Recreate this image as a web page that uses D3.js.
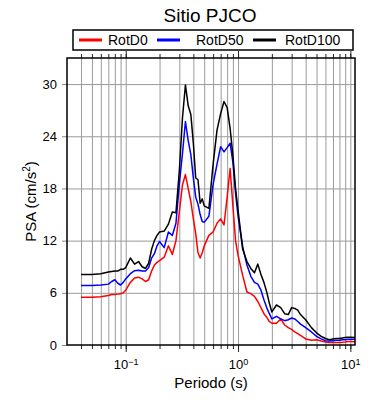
<!DOCTYPE html>
<html>
<head>
<meta charset="utf-8">
<script src="https://cdn.jsdelivr.net/npm/d3@7"></script>
<style>
  body { margin: 0; background: #fff; }
  svg { display: block; font-family: "Liberation Sans", Arial, sans-serif; }
</style>
</head>
<body>
<svg id="chart" width="390" height="400"></svg>
<script>
// periods (s) and spectral accelerations (cm/s^2)
const periods = [0.04, 0.05, 0.06, 0.07, 0.075, 0.08, 0.085, 0.09, 0.095, 0.1,
  0.11, 0.12, 0.13, 0.14, 0.15, 0.16, 0.17, 0.18, 0.19, 0.2,
  0.22, 0.24, 0.26, 0.28, 0.30, 0.32, 0.34, 0.36, 0.38, 0.40,
  0.42, 0.44, 0.46, 0.48, 0.50, 0.55, 0.60, 0.65, 0.70, 0.75,
  0.80, 0.85, 0.90, 0.95, 1.0, 1.1, 1.2, 1.3, 1.4, 1.5,
  1.6, 1.7, 1.8, 1.9, 2.0, 2.2, 2.4, 2.6, 2.8, 3.0,
  3.2, 3.4, 3.6, 3.8, 4.0, 4.5, 5.0, 5.5, 6.0, 6.5,
  7.0, 7.5, 8.0, 8.5, 9.0, 9.5, 10, 11];

const rotD0 = [5.5, 5.5, 5.55, 5.7, 5.8, 5.8, 5.85, 5.9, 6.0, 6.3,
  7.2, 7.7, 7.8, 7.6, 7.3, 7.5, 8.5, 9.2, 9.5, 9.7,
  10.1, 11.4, 10.4, 12.0, 15.3, 18.4, 19.6, 18.0, 16.5, 14.5,
  12.8, 10.6, 10.0, 10.6, 11.4, 12.6, 13.0, 14.0, 14.5, 13.8,
  17.0, 20.3, 16.0, 12.0, 10.3, 8.0, 6.1, 5.9, 5.6, 5.0,
  4.3, 3.6, 3.2, 2.7, 2.5, 2.5, 3.0, 2.3, 2.0, 1.8,
  1.5, 1.3, 1.1, 0.9, 0.7, 0.55, 0.6, 0.45, 0.35, 0.3,
  0.3, 0.3, 0.3, 0.32, 0.35, 0.4, 0.4, 0.38];

const rotD50 = [6.85, 6.85, 6.9, 7.0, 7.3, 7.5, 7.1, 6.9, 7.2, 7.6,
  8.2, 8.55, 8.6, 8.5, 8.5, 8.9, 10.0, 10.5, 11.4, 11.9,
  11.2, 13.0, 12.6, 14.0, 18.5, 22.0, 25.7, 23.5, 21.9, 19.2,
  17.0, 16.2, 15.0, 14.2, 14.1, 14.8, 18.5, 20.8, 22.8, 22.2,
  22.7, 23.2, 21.0, 17.5, 14.8, 11.3, 9.2, 7.9, 7.2, 7.0,
  6.3, 5.2, 4.3, 3.6, 3.0, 3.3, 3.0, 2.8, 2.9, 3.1,
  3.0, 2.7, 2.4, 2.2, 2.0, 1.5, 1.0, 0.7, 0.5, 0.45,
  0.5, 0.55, 0.55, 0.6, 0.6, 0.65, 0.65, 0.65];

const rotD100 = [8.1, 8.1, 8.2, 8.4, 8.45, 8.5, 8.5, 8.7, 8.7, 8.9,
  10.0, 9.3, 9.6, 9.0, 8.8, 9.4, 11.0, 12.0, 12.6, 13.0,
  13.1, 13.9, 15.3, 15.2, 20.0, 26.1, 29.9, 27.5, 26.5, 23.2,
  19.2, 19.0, 16.3, 16.8, 16.0, 15.7, 20.8, 24.7, 26.6, 28.0,
  27.3, 24.9, 21.8, 18.0, 15.5, 11.0, 9.6, 8.8, 8.3, 9.3,
  8.1, 7.2, 6.1, 4.8, 3.8, 4.6, 4.3, 3.6, 3.5, 4.3,
  4.2, 4.0, 3.5, 3.2, 2.9, 2.0, 1.4, 1.0, 0.75, 0.6,
  0.7, 0.75, 0.75, 0.8, 0.85, 0.9, 0.9, 0.85];

const seriesNames = ["RotD0", "RotD50", "RotD100"];
const seriesColors = ["#ff0000", "#0000ff", "#000000"];
const seriesValues = [rotD0, rotD50, rotD100];

const yTicks = [0, 6, 12, 18, 24, 30];
const xMajor = [0.1, 1, 10];
const xMajorExp = ["\u22121", "0", "1"];

const svg = d3.select("#chart");
const plotL = 67, plotR = 355, plotT = 58, plotB = 345;

const x = d3.scaleLog().domain([0.03, 11]).range([plotL, plotR]);
const y = d3.scaleLinear().domain([0, 33]).range([plotB, plotT]);

// minor log ticks inside the domain
const xMinor = [];
[0.01, 0.1, 1, 10].forEach(d => {
  for (let k = 1; k <= 9; k++) {
    const v = +(d * k).toPrecision(3);
    if (v > 0.03 && v < 11) xMinor.push(v);
  }
});

// grid
svg.append("g")
  .attr("transform", `translate(0,${plotB})`)
  .call(d3.axisBottom(x).tickValues(xMinor).tickSize(-(plotB - plotT)).tickFormat(""))
  .call(g => g.select(".domain").remove())
  .call(g => g.selectAll("line").attr("stroke", "#9a9a9a").attr("stroke-width", 1));

svg.append("g")
  .attr("transform", `translate(${plotL},0)`)
  .call(d3.axisLeft(y).tickValues(yTicks.slice(1)).tickSize(-(plotR - plotL)).tickFormat(""))
  .call(g => g.select(".domain").remove())
  .call(g => g.selectAll("line").attr("stroke", "#9a9a9a").attr("stroke-width", 1));

// lines
const line = d3.line()
  .x((d, i) => x(periods[i]))
  .y(d => y(d));

svg.append("g")
  .attr("fill", "none")
  .attr("stroke-width", 1.5)
  .attr("stroke-linejoin", "round")
  .selectAll("path")
  .data(seriesValues)
  .join("path")
  .attr("stroke", (d, i) => seriesColors[i])
  .attr("d", line);

// axes (ticks outside)
const styleAxis = g => {
  g.select(".domain").remove();
  g.selectAll("line").attr("stroke", "#222").attr("stroke-width", 1);
};

svg.append("g")
  .attr("transform", `translate(0,${plotB})`)
  .call(d3.axisBottom(x).tickValues(xMinor).tickSize(4).tickFormat(""))
  .call(styleAxis);

svg.append("g")
  .attr("transform", `translate(0,${plotT})`)
  .call(d3.axisTop(x).tickValues(xMinor).tickSize(4).tickFormat(""))
  .call(styleAxis);

svg.append("g")
  .attr("transform", `translate(0,${plotT})`)
  .call(d3.axisTop(x).tickValues(xMajor).tickSize(7).tickFormat(""))
  .call(styleAxis);

const xAxisMajor = svg.append("g")
  .attr("transform", `translate(0,${plotB})`)
  .call(d3.axisBottom(x).tickValues(xMajor).tickSize(7).tickPadding(8).tickFormat(""))
  .call(styleAxis);

xAxisMajor.selectAll("text")
  .attr("font-size", 13)
  .attr("fill", "#000")
  .attr("font-family", "Liberation Sans, Arial, sans-serif")
  .each(function(d, i) {
    const t = d3.select(this);
    t.append("tspan").text("10");
    t.append("tspan").attr("font-size", 9).attr("dy", "-0.5em").text(xMajorExp[i]);
  });

svg.append("g")
  .attr("transform", `translate(${plotL},0)`)
  .call(d3.axisLeft(y).tickValues(yTicks).tickSize(5).tickPadding(5))
  .call(g => g.select(".domain").remove())
  .call(g => g.selectAll("line").attr("stroke", "#888"))
  .call(g => g.selectAll("text")
    .attr("font-size", 13)
    .attr("fill", "#000")
    .attr("font-family", "Liberation Sans, Arial, sans-serif"));

// frame
svg.append("rect")
  .attr("x", plotL).attr("y", plotT)
  .attr("width", plotR - plotL).attr("height", plotB - plotT)
  .attr("fill", "none").attr("stroke", "#000").attr("stroke-width", 1.5);

// axis titles
svg.append("text")
  .attr("x", (plotL + plotR) / 2).attr("y", 388)
  .attr("text-anchor", "middle").attr("font-size", 15)
  .text("Periodo (s)");

const yl = svg.append("text")
  .attr("transform", `translate(36,${(plotT + plotB) / 2}) rotate(-90)`)
  .attr("text-anchor", "middle").attr("font-size", 15);
yl.append("tspan").text("PSA (cm/s");
yl.append("tspan").attr("font-size", 10).attr("dy", "-0.6em").text("2");
yl.append("tspan").attr("dy", "0.4em").text(")");

// title
svg.append("text")
  .attr("x", 210).attr("y", 22)
  .attr("text-anchor", "middle").attr("font-size", 19)
  .text("Sitio PJCO");

// legend
svg.append("rect")
  .attr("x", 73).attr("y", 30).attr("width", 280).attr("height", 20)
  .attr("fill", "#fff").attr("stroke", "#000").attr("stroke-width", 1.5);

const legendX = [79, 157, 253];
const legendTextX = [108, 196, 285];
const lg = svg.append("g").selectAll("g")
  .data(seriesNames)
  .join("g");
lg.append("line")
  .attr("x1", (d, i) => legendX[i]).attr("x2", (d, i) => legendX[i] + 23)
  .attr("y1", 40).attr("y2", 40)
  .attr("stroke", (d, i) => seriesColors[i]).attr("stroke-width", 3);
lg.append("text")
  .attr("x", (d, i) => legendTextX[i]).attr("y", 45)
  .attr("font-size", 14)
  .text(d => d);
</script>
</body>
</html>
